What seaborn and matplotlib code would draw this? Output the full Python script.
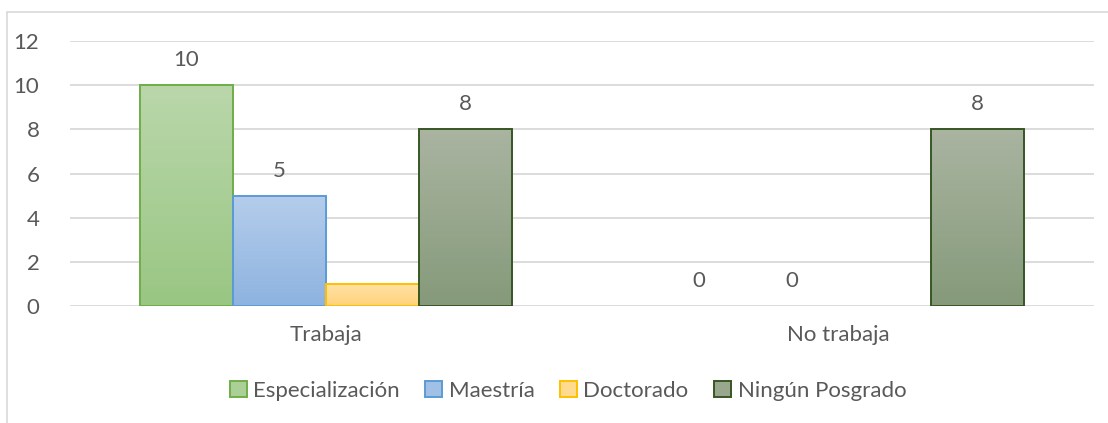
import numpy as np
import pandas as pd
import matplotlib
matplotlib.use("Agg")
import matplotlib.pyplot as plt
import seaborn as sns
from matplotlib.colors import LinearSegmentedColormap, to_rgba
from matplotlib.patches import Patch
from matplotlib.lines import Line2D

# ---- data ----
categories = ["Trabaja", "No trabaja"]
series = ["Especialización", "Maestría", "Doctorado", "Ningún Posgrado"]
especializacion = [10, 0]
maestria = [5, 0]
doctorado = [1, np.nan]
ningun_posgrado = [8, 8]
show_labels = [True, True, False, True]
yticks = [0, 2, 4, 6, 8, 10, 12]

# ---- styles ----
fill_top = ["#bad7ab", "#b5cdeb", "#ffe3a6", "#aab4a1"]
fill_bottom = ["#99c683", "#8db3e0", "#ffd27a", "#859a7a"]
edge_cols = ["#70ad47", "#5b9bd5", "#ffc000", "#385723"]
text_col = "#595959"
grid_col = "#d9d9d9"
FS = 16

sns.set_style("white")
plt.rcParams["font.family"] = ["Lato", "DejaVu Sans"]

values = [especializacion, maestria, doctorado, ningun_posgrado]
rows = []
for s, vals in zip(series, values):
    for c, v in zip(categories, vals):
        rows.append({"estado": c, "grado": s, "valor": v})
df = pd.DataFrame(rows)

fig = plt.figure(figsize=(11.08, 4.23), dpi=100)
ax = fig.add_axes([70 / 1108, 1 - 306 / 423, 1024 / 1108, 265 / 423])

sns.barplot(data=df, x="estado", y="valor", hue="grado", order=categories,
            hue_order=series, palette=dict(zip(series, fill_bottom)),
            width=0.727, gap=0, saturation=1, errorbar=None, legend=False,
            ax=ax)

ax.set_xlim(-0.5, 1.5)
ax.set_ylim(0, 12)

bottom_rgba = [to_rgba(c) for c in fill_bottom]
bar_info = []
for p in list(ax.patches):
    fc = p.get_facecolor()
    idx = int(np.argmin([np.sum((np.array(fc) - np.array(b)) ** 2) for b in bottom_rgba]))
    x0, y0 = p.get_x(), p.get_y()
    w, h = p.get_width(), p.get_height()
    bar_info.append((idx, x0, w, h))
    if h <= 0:
        p.set_linewidth(0)
        p.set_facecolor("none")
        continue
    cmap = LinearSegmentedColormap.from_list("g", [fill_bottom[idx], fill_top[idx]])
    grad = np.linspace(0, 1, 256).reshape(-1, 1)
    im = ax.imshow(grad, cmap=cmap, extent=[x0, x0 + w, y0, y0 + h], origin="lower",
                   aspect="auto", zorder=2, interpolation="bilinear")
    im.set_clip_path(p)
    p.set_facecolor("none")
    p.set_edgecolor(edge_cols[idx])
    p.set_linewidth(1.4)
    p.set_zorder(3)

ax.set_xlim(-0.5, 1.5)
ax.set_ylim(0, 12)

# data labels
for idx, x0, w, h in bar_info:
    if not show_labels[idx] or np.isnan(h):
        continue
    ax.annotate(f"{h:g}", xy=(x0 + w / 2, h), xytext=(0, 18),
                textcoords="offset points", ha="center", va="center",
                fontsize=FS, color=text_col)

ax.set_yticks(yticks)
ax.yaxis.grid(True, color=grid_col, linewidth=1.3)
ax.xaxis.grid(False)
ax.set_axisbelow(True)
for s in ax.spines.values():
    s.set_visible(False)
ax.tick_params(axis="both", length=0, labelsize=FS, labelcolor=text_col)
ax.tick_params(axis="y", pad=22)
ax.tick_params(axis="x", pad=14)
ax.set_xlabel("")
ax.set_ylabel("")

handles = [Patch(facecolor=tuple(0.5 * a + 0.5 * b for a, b in
                                 zip(to_rgba(fill_top[i])[:3], to_rgba(fill_bottom[i])[:3])),
                 edgecolor=edge_cols[i], linewidth=1.4) for i in range(len(series))]
fig.legend(handles, series, loc="center", bbox_to_anchor=(568 / 1108, 1 - 391 / 423),
           ncol=4, frameon=False, handlelength=0.75, handleheight=0.75,
           handletextpad=0.3, columnspacing=1.15, fontsize=FS, labelcolor=text_col)

# outer chart border (partially visible)
fig.add_artist(Line2D([7 / 1108, 7 / 1108], [0, 1 - 12 / 423], color=grid_col,
                      linewidth=1.2, transform=fig.transFigure))
fig.add_artist(Line2D([7 / 1108, 1], [1 - 12 / 423, 1 - 12 / 423], color=grid_col,
                      linewidth=1.2, transform=fig.transFigure))

fig.savefig("out.png", dpi=100, facecolor="white")
